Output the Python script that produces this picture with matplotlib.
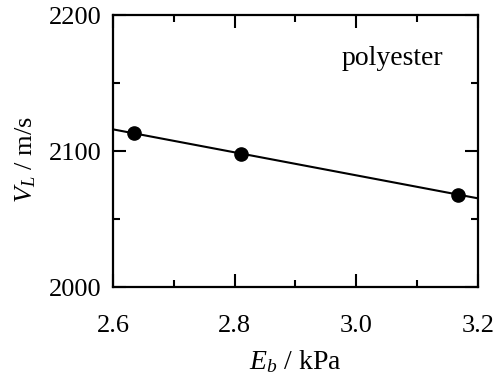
import numpy as np
import matplotlib
matplotlib.use("Agg")
import matplotlib.pyplot as plt
from matplotlib.ticker import MultipleLocator

eb = [2.635, 2.811, 3.167]
vl = [2113, 2098, 2068]

plt.rcParams["font.family"] = ["Liberation Serif", "DejaVu Serif"]
plt.rcParams["mathtext.fontset"] = "custom"
plt.rcParams["mathtext.it"] = "Liberation Serif:italic"
plt.rcParams["mathtext.rm"] = "Liberation Serif"

fig = plt.figure(figsize=(4.96, 3.77), dpi=100)
ax = fig.add_axes([113 / 496, 1 - 287 / 377, 365 / 496, 272 / 377])

# regression line across the full axis width
k, b = np.polyfit(eb, vl, 1)
xl = np.array([2.6, 3.2])
ax.plot(xl, k * xl + b, color="black", linewidth=1.5, zorder=2)
ax.plot(eb, vl, "o", color="black", markersize=9.5, zorder=3)

ax.set_xlim(2.6, 3.2)
ax.set_ylim(2000, 2200)
ax.xaxis.set_major_locator(MultipleLocator(0.2))
ax.xaxis.set_minor_locator(MultipleLocator(0.1))
ax.yaxis.set_major_locator(MultipleLocator(100))
ax.yaxis.set_minor_locator(MultipleLocator(50))
ax.set_xticks([2.6, 2.8, 3.0, 3.2])
ax.set_xticklabels(["2.6", "2.8", "3.0", "3.2"])

ax.tick_params(which="both", direction="in", top=True, right=True, width=1.5,
               labelsize=19)
ax.tick_params(which="major", length=9.5)
ax.tick_params(which="minor", length=5)
ax.tick_params(axis="x", pad=20)
ax.tick_params(axis="y", pad=8)
for s in ax.spines.values():
    s.set_linewidth(1.6)

ax.text(0.627, 0.84, "polyester", transform=ax.transAxes, fontsize=20,
        ha="left", va="center")

ax.set_xlabel("$E_b$ / kPa", fontsize=20)
ax.set_ylabel("$V_L$ / m/s", fontsize=19)
ax.xaxis.set_label_coords(0.5, -0.225)
ax.yaxis.set_label_coords(-0.205, 0.47)

fig.savefig("out.png", dpi=100)
